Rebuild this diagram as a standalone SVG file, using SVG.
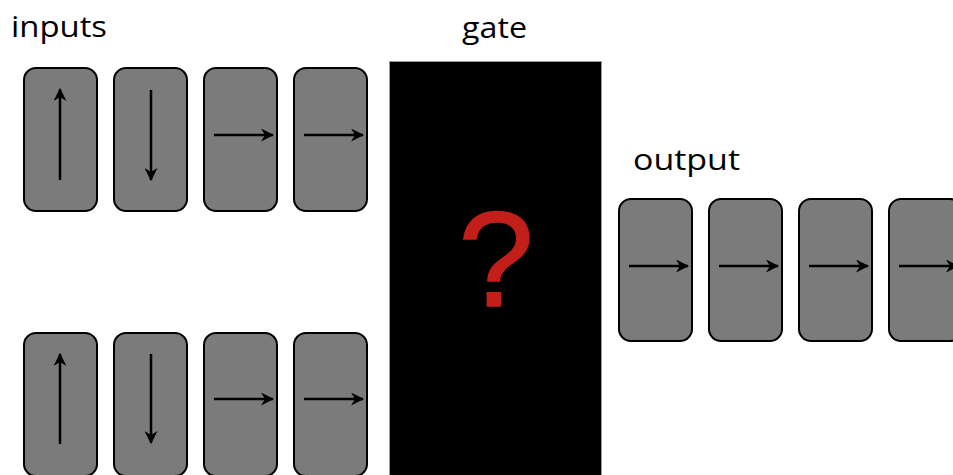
<svg xmlns="http://www.w3.org/2000/svg" width="953" height="475" viewBox="0 0 953 475">
  <defs>
    <marker id="head" markerWidth="13" markerHeight="13" refX="12" refY="6.5" orient="auto" markerUnits="userSpaceOnUse">
      <path d="M0,0 L13,6.5 L0,13 L4,6.5 Z" fill="#000"/>
    </marker>
  </defs>
  <style>
    .label { font-family: "Open Sans", "Liberation Sans", sans-serif; font-size: 30px; fill: #000; }
    .card { fill: #7b7b7b; stroke: #000; stroke-width: 2; }
    .spin { stroke: #000; stroke-width: 2.5; fill: none; marker-end: url(#head); }
    .gate { fill: #000; stroke: #999; stroke-width: 1; }
    .mark { font-family: "Liberation Sans", Arial, sans-serif; font-size: 136px; fill: #c21f1a; stroke: #c21f1a; stroke-width: 1.5; }
  </style>
  <rect width="953" height="475" fill="#fff"/>

  <!-- section labels -->
  <text class="label" x="11" y="37" textLength="96" lengthAdjust="spacingAndGlyphs">inputs</text>
  <text class="label" x="462" y="38" textLength="65" lengthAdjust="spacingAndGlyphs">gate</text>
  <text class="label" x="633" y="170" textLength="107" lengthAdjust="spacingAndGlyphs">output</text>

  <!-- gate block -->
  <g id="gate">
    <rect class="gate" x="389.5" y="61.5" width="212" height="420"/>
    <text class="mark" x="496" y="306" text-anchor="middle">?</text>
  </g>

  <!-- input row A -->
  <g id="inA1"><rect class="card" x="24" y="68" width="73" height="143" rx="12"/></g>
  <g id="inA2"><rect class="card" x="114" y="68" width="73" height="143" rx="12"/></g>
  <g id="inA3"><rect class="card" x="204" y="68" width="73" height="143" rx="12"/></g>
  <g id="inA4"><rect class="card" x="294" y="68" width="73" height="143" rx="12"/></g>

  <!-- input row B -->
  <g id="inB1"><rect class="card" x="24" y="333" width="73" height="143" rx="12"/></g>
  <g id="inB2"><rect class="card" x="114" y="333" width="73" height="143" rx="12"/></g>
  <g id="inB3"><rect class="card" x="204" y="333" width="73" height="143" rx="12"/></g>
  <g id="inB4"><rect class="card" x="294" y="333" width="73" height="143" rx="12"/></g>

  <!-- output row -->
  <g id="out1"><rect class="card" x="619" y="199" width="73" height="142" rx="12"/></g>
  <g id="out2"><rect class="card" x="709" y="199" width="73" height="142" rx="12"/></g>
  <g id="out3"><rect class="card" x="799" y="199" width="73" height="142" rx="12"/></g>
  <g id="out4"><rect class="card" x="889" y="199" width="73" height="142" rx="12"/></g>

  <!-- spin arrows -->
  <g id="spins">
    <line class="spin" x1="60" y1="180" x2="60" y2="89"/>
    <line class="spin" x1="151" y1="90" x2="151" y2="180"/>
    <line class="spin" x1="214" y1="135" x2="273" y2="135"/>
    <line class="spin" x1="304" y1="135" x2="363" y2="135"/>

    <line class="spin" x1="60" y1="444" x2="60" y2="354"/>
    <line class="spin" x1="151" y1="354" x2="151" y2="443"/>
    <line class="spin" x1="214" y1="399" x2="273" y2="399"/>
    <line class="spin" x1="304" y1="399" x2="363" y2="399"/>

    <line class="spin" x1="629" y1="266" x2="688" y2="266"/>
    <line class="spin" x1="719" y1="266" x2="778" y2="266"/>
    <line class="spin" x1="809" y1="266" x2="868" y2="266"/>
    <line class="spin" x1="899" y1="266" x2="958" y2="266"/>
  </g>
</svg>
